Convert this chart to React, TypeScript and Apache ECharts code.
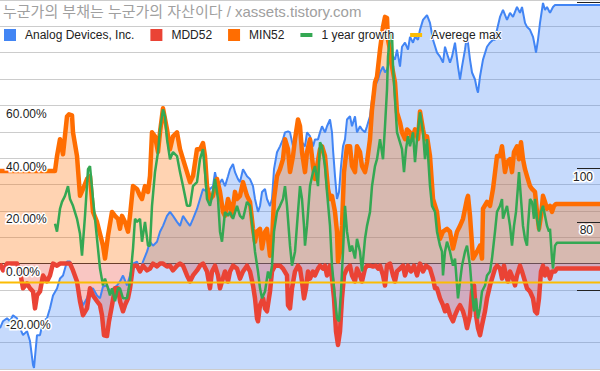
import React, { useEffect, useRef } from 'react';
import * as echarts from 'echarts';

const titleText = '누군가의 부채는 누군가의 자산이다 / xassets.tistory.com';
const seriesNames = ['Analog Devices, Inc.', 'MDD52', 'MIN52', '1 year growth', 'Averege max'];

// [trading day, price] – right axis
const adiPrice: number[][] = [[0,40.4],[3,43.0],[7,44.1],[10,43.0],[13,45.2],[17,44.1],[20,40.4],[23,37.8],[27,39.3],[30,35.6],[33,26.7],[34,25.6],[37,37.8],[40,37.8],[43,43.0],[47,44.1],[50,47.8],[53,52.6],[57,55.2],[60,58.9],[63,60.0],[67,65.2],[70,65.2],[73,62.6],[77,57.8],[80,52.6],[83,48.9],[87,51.5],[90,55.2],[93,55.2],[97,52.6],[100,51.5],[103,55.9],[107,56.3],[110,54.1],[113,55.2],[117,56.3],[120,57.8],[123,60.0],[127,56.3],[130,60.0],[133,64.4],[137,65.2],[140,61.5],[143,65.2],[147,68.9],[150,72.6],[153,71.1],[157,72.6],[160,76.3],[163,78.5],[167,82.2],[170,83.7],[173,82.2],[177,80.0],[180,78.5],[183,82.2],[187,80.0],[190,78.5],[193,81.1],[197,84.8],[200,88.5],[203,92.2],[207,91.1],[210,92.2],[213,93.3],[215,98.5],[218,93.3],[222,95.9],[225,93.3],[228,97.0],[230,99.6],[233,101.5],[235,98.5],[238,95.9],[240,94.8],[243,99.6],[247,97.0],[250,95.9],[253,93.3],[255,88.5],[258,83.7],[260,85.9],[262,91.1],[265,92.2],[267,88.5],[270,85.9],[272,88.5],[274,99.6],[277,105.9],[280,108.1],[283,110.7],[285,113.3],[288,113.7],[290,113.3],[293,108.1],[295,110.7],[298,115.6],[300,115.6],[302,109.6],[305,108.1],[307,113.3],[310,111.9],[313,108.1],[315,110.7],[318,110.7],[320,113.3],[322,115.6],[325,113.3],[327,115.6],[330,118.1],[332,113.3],[333,107.0],[335,97.0],[337,88.5],[339,91.1],[341,100.7],[343,108.1],[345,110.7],[347,118.1],[350,119.3],[352,115.6],[355,119.3],[357,113.3],[360,115.6],[362,114.4],[365,113.3],[367,115.6],[370,119.3],[372,125.6],[375,130.4],[378,133.0],[380,135.6],[383,137.8],[385,135.6],[387,136.7],[390,140.4],[393,141.5],[395,140.4],[397,144.1],[400,137.8],[402,145.2],[405,146.7],[408,144.1],[410,148.9],[413,146.7],[415,148.9],[418,147.8],[420,151.5],[423,155.2],[427,157.0],[430,154.1],[433,147.8],[437,143.0],[440,141.5],[443,139.3],[445,145.2],[448,141.5],[450,139.3],[452,141.5],[455,146.7],[458,137.8],[460,133.0],[462,137.8],[465,144.1],[467,149.6],[470,140.4],[472,135.6],[475,133.0],[477,129.3],[478,128.1],[480,134.1],[483,140.4],[487,145.2],[490,146.7],[493,147.8],[495,147.8],[497,151.5],[500,156.3],[503,158.9],[507,155.2],[510,157.8],[513,156.3],[517,160.0],[520,157.8],[522,160.0],[525,154.1],[527,152.6],[530,151.5],[533,148.9],[535,145.2],[536,143.0],[538,147.8],[540,154.1],[543,161.5],[545,158.9],[547,160.0],[550,157.8],[553,160.0],[555,160.7],[600,160.7]];

// [trading day, %] – left axis
const mdd52: number[][] = [[0,0],[3,-2.6],[7,0],[13,0],[17,0],[20,-3.0],[23,-9.4],[27,-7.5],[30,-9.4],[33,-10.6],[35,-17.0],[37,-12.1],[40,-10.6],[43,-4.5],[47,-6.8],[50,-4.5],[53,0],[57,-0.8],[60,0],[63,0],[67,0],[70,0],[73,-2.6],[77,-6.8],[80,-14.3],[83,-19.6],[87,-17.0],[90,-9.4],[93,-12.1],[97,-14.3],[100,-15.8],[102,-19.6],[104,-27.2],[107,-27.5],[109,-21.9],[112,-15.8],[115,-9.4],[118,-9.4],[120,-14.3],[123,-18.1],[125,-15.8],[128,-13.2],[130,-9.4],[133,-0.8],[137,-0.8],[140,-3.0],[143,-0.8],[147,-2.6],[150,-1.9],[153,0],[157,-1.1],[160,0],[163,0],[167,-1.1],[170,-0.8],[173,-2.6],[177,-0.8],[180,0],[183,-0.8],[187,-4.5],[190,-6.8],[193,-4.5],[197,-2.6],[200,-0.8],[203,0],[207,-3.0],[210,-9.4],[212,-3.0],[215,-0.8],[218,-4.5],[220,-9.4],[222,-6.8],[225,-3.0],[228,-6.8],[230,-3.0],[233,-0.8],[237,-1.9],[240,-5.7],[243,-3.0],[247,-0.8],[250,-3.0],[253,-8.3],[255,-13.2],[257,-20.8],[258,-21.9],[260,-15.8],[263,-13.2],[265,-17.0],[267,-18.1],[270,-10.6],[272,-3.0],[275,-0.8],[278,-0.8],[280,-0.8],[283,-1.9],[287,-4.5],[288,-15.8],[290,-17.0],[292,-9.4],[295,-3.0],[298,-0.8],[300,-1.9],[302,-6.8],[304,-13.2],[306,-9.4],[308,-3.0],[310,-5.7],[313,-3.0],[315,-4.5],[318,-1.9],[320,-0.8],[323,-1.9],[325,-0.8],[327,-4.5],[330,-0.8],[332,-5.7],[334,-13.2],[336,-25.7],[338,-30.9],[340,-25.7],[342,-13.2],[344,-4.5],[347,-1.9],[350,-0.8],[352,-4.5],[355,-6.8],[357,-1.9],[360,-4.5],[362,-6.8],[365,-1.9],[367,-0.8],[370,-0.8],[373,-1.1],[376,-0.8],[378,-1.9],[380,-0.8],[383,-4.5],[385,-8.3],[387,-0.8],[390,0],[393,-4.5],[395,-6.8],[397,-3.0],[400,-1.9],[403,-0.8],[405,-4.5],[408,-0.8],[411,-3.0],[414,-0.8],[417,-4.5],[420,0],[423,-3.0],[426,-0.8],[430,-1.9],[433,-5.7],[435,-9.4],[437,-9.4],[440,-13.2],[443,-15.8],[445,-18.1],[447,-15.8],[450,-19.6],[453,-21.9],[455,-19.6],[458,-17.0],[460,-15.8],[463,-18.1],[465,-20.8],[467,-24.5],[470,-19.6],[472,-10.6],[474,-8.3],[476,-19.6],[478,-24.5],[480,-27.2],[482,-23.4],[485,-18.1],[487,-13.2],[490,-8.3],[493,-4.5],[495,-1.9],[497,-0.8],[500,-1.9],[502,-5.7],[504,-0.8],[506,-4.5],[508,-6.8],[510,-3.0],[513,-5.7],[515,-8.3],[517,-4.5],[520,-0.8],[522,-3.0],[525,-6.8],[527,-9.4],[530,-10.6],[533,-13.2],[535,-18.1],[537,-18.9],[539,-13.2],[541,-3.0],[543,-0.8],[545,-4.5],[547,-1.9],[550,-5.7],[552,-3.0],[555,-3.0],[557,-1.9],[600,-1.9]];

const min52: number[][] = [[0,35.1],[55,35.1],[57,40.8],[60,47.2],[63,41.5],[67,55.8],[69,56.6],[72,56.2],[73,49.8],[77,40.8],[80,25.7],[83,28.3],[87,32.1],[90,33.2],[93,19.6],[97,15.8],[100,11.3],[103,6.8],[105,1.9],[108,10.6],[112,19.6],[115,18.1],[118,17.0],[120,13.2],[122,18.1],[125,15.8],[128,12.1],[130,18.1],[133,29.4],[137,28.3],[140,25.7],[142,24.5],[145,29.4],[148,27.2],[150,33.2],[152,49.8],[155,48.3],[158,42.3],[160,49.8],[163,58.9],[167,50.9],[170,43.4],[173,48.3],[177,49.8],[180,43.4],[183,39.6],[187,34.7],[190,30.9],[193,33.2],[197,43.4],[200,43.4],[203,45.7],[205,40.8],[207,29.4],[210,24.5],[213,25.7],[215,29.4],[217,32.1],[220,27.2],[223,19.6],[225,18.1],[228,24.5],[230,21.9],[232,18.1],[235,27.2],[237,24.5],[240,25.7],[243,30.9],[247,25.7],[250,23.4],[253,13.2],[255,8.3],[257,12.1],[260,13.2],[262,5.7],[265,12.1],[267,13.2],[270,3.0],[272,8.3],[274,24.5],[277,33.2],[280,35.8],[283,39.6],[285,47.2],[288,43.4],[290,34.7],[293,40.8],[295,47.2],[298,54.7],[300,52.1],[302,42.3],[305,34.7],[307,42.3],[310,47.2],[313,37.0],[315,32.1],[317,37.0],[320,43.4],[322,44.5],[325,40.8],[328,28.3],[330,24.5],[332,25.7],[335,19.6],[337,12.1],[338,0.8],[340,4.5],[342,14.3],[344,34.7],[347,44.5],[350,44.5],[352,37.0],[355,34.7],[357,44.5],[360,42.3],[362,37.0],[365,34.7],[367,38.5],[370,47.2],[372,58.5],[375,68.7],[377,70.9],[380,81.1],[383,89.8],[385,93.6],[387,93.2],[388,84.9],[390,81.1],[392,74.7],[395,68.7],[397,57.4],[400,53.6],[402,49.8],[405,47.2],[407,50.9],[410,49.8],[412,47.2],[415,50.9],[418,47.2],[420,57.7],[423,50.9],[425,47.2],[427,48.3],[430,40.8],[433,24.5],[437,19.6],[440,9.4],[443,12.1],[447,13.2],[450,12.1],[453,5.7],[457,12.1],[460,14.3],[463,17.0],[467,24.5],[468,25.7],[470,18.1],[473,1.9],[477,4.5],[480,6.8],[482,1.9],[483,20.8],[487,23.4],[490,21.9],[493,28.3],[497,40.8],[500,40.8],[502,44.5],[505,34.7],[507,38.5],[510,39.6],[512,34.7],[514,42.3],[517,44.5],[519,39.6],[521,46.0],[523,39.6],[525,35.8],[527,33.2],[530,29.4],[532,28.3],[535,27.2],[537,19.6],[539,13.2],[541,18.1],[543,25.7],[545,23.4],[547,20.8],[550,21.9],[552,19.6],[554,21.9],[556,22.6],[600,22.6]];

const growth1y: number[][] = [[55,15.1],[57,12.1],[60,20.8],[62,23.4],[65,25.7],[68,29.4],[70,24.5],[73,21.9],[77,17.0],[80,11.3],[82,3.0],[85,18.1],[88,35.8],[90,37.0],[93,24.5],[96,13.2],[100,-1.9],[103,-8.3],[105,-5.7],[108,-9.4],[110,-12.1],[112,-9.4],[115,-14.3],[118,-9.4],[120,-9.4],[123,-13.2],[127,-13.2],[130,-6.8],[133,5.7],[135,17.0],[137,15.8],[140,17.0],[142,8.3],[145,15.8],[148,6.8],[150,6.8],[152,21.9],[155,34.7],[158,42.3],[160,50.9],[163,58.5],[165,55.8],[167,47.2],[170,39.6],[173,42.3],[177,40.8],[180,34.7],[183,29.4],[187,21.9],[190,21.9],[193,29.4],[197,30.9],[200,39.6],[203,43.4],[205,34.7],[207,24.5],[210,21.9],[213,27.2],[215,32.1],[218,24.5],[220,12.1],[222,8.3],[225,19.6],[228,18.1],[230,19.6],[233,17.0],[237,21.9],[240,18.1],[243,17.0],[247,23.4],[250,21.9],[253,12.1],[255,4.5],[258,-3.0],[260,-9.4],[262,-13.2],[265,-10.6],[268,-3.0],[270,-5.7],[272,-0.8],[274,12.1],[277,19.6],[280,21.9],[283,24.5],[285,29.4],[287,21.9],[290,6.8],[292,-0.8],[295,4.5],[298,19.6],[300,29.4],[302,24.5],[304,14.3],[305,6.8],[307,14.3],[310,29.4],[313,34.7],[315,37.0],[318,29.4],[320,46.0],[322,44.5],[325,37.0],[327,27.2],[330,14.3],[332,-0.8],[335,-13.2],[337,-20.8],[339,-21.9],[341,-10.6],[343,4.5],[345,21.9],[347,12.1],[350,4.5],[352,6.8],[355,1.9],[357,9.4],[360,4.5],[362,-3.0],[365,9.4],[367,14.3],[370,19.6],[372,29.4],[375,37.0],[377,39.6],[380,47.2],[383,39.6],[385,52.1],[387,66.0],[388,78.5],[390,86.8],[392,87.5],[393,74.7],[395,62.3],[397,49.8],[400,46.0],[402,43.4],[404,34.7],[406,43.4],[408,48.3],[410,44.5],[413,49.8],[415,38.5],[417,47.2],[420,57.4],[423,49.8],[425,39.6],[427,47.2],[430,29.4],[432,21.9],[435,19.6],[437,12.1],[440,6.8],[442,4.5],[443,-4.5],[445,4.5],[447,8.3],[450,4.5],[453,-0.8],[455,1.9],[458,-13.2],[460,-6.8],[462,-0.8],[465,4.5],[467,6.8],[470,-0.8],[472,-10.6],[474,-18.1],[476,-13.2],[478,-20.8],[480,-17.0],[482,-10.6],[485,-8.3],[487,-4.5],[490,-3.0],[492,1.9],[495,12.1],[497,19.6],[500,21.9],[502,24.5],[503,17.0],[505,19.6],[507,21.9],[510,14.3],[512,6.8],[514,14.3],[516,19.6],[518,29.4],[519,34.7],[521,24.5],[523,14.3],[525,9.4],[527,6.8],[528,14.3],[530,24.5],[532,23.4],[534,17.0],[535,24.5],[537,17.0],[539,12.1],[541,19.6],[543,21.9],[545,18.1],[547,14.3],[549,12.1],[550,13.2],[552,1.9],[553,-1.9],[555,6.8],[557,7.9],[600,7.9]];

const averegeMax = -7.2;
const dayRange = [0, 600];

const pctAxisRange = [-40, 100];
const priceAxisRange = [25.2, 162.6];
const priceTickValues = [54.4, 80, 100, 161.9];
const priceLabelValues = [80, 100];

const FONT = '"Liberation Sans", Arial, "Noto Sans CJK KR", sans-serif';

export default function App() {
  const ref = useRef<HTMLDivElement>(null);
  useEffect(() => {
    document.body.style.margin = '0';
    const chart = echarts.init(ref.current as HTMLDivElement, null, { renderer: 'svg' });
    const lineIcon = 'path://M0,0L12,0L12,4L0,4Z';
    const option: any = {
      animation: false,
      title: {
        text: titleText,
        left: 3,
        top: 4,
        padding: 0,
        textStyle: { fontSize: 15, fontWeight: 'normal', color: '#a0a0a0', fontFamily: FONT },
      },
      legend: {
        left: 4,
        top: 28,
        padding: 0,
        itemGap: 15,
        itemWidth: 12,
        itemHeight: 12,
        textStyle: {
          fontSize: 12, color: '#222', fontFamily: FONT, padding: [0, 0, 0, 4],
          textBorderColor: '#fff', textBorderWidth: 2,
        },
        data: [
          { name: seriesNames[0], icon: 'rect' },
          { name: seriesNames[1], icon: 'rect' },
          { name: seriesNames[2], icon: 'rect' },
          { name: seriesNames[3], icon: lineIcon },
          { name: seriesNames[4], icon: lineIcon },
        ],
      },
      grid: { left: 0, right: 0, top: 0, bottom: 0, containLabel: false },
      xAxis: {
        type: 'value', min: dayRange[0], max: dayRange[1],
        axisLine: { show: true, onZero: true, onZeroAxisIndex: 0, lineStyle: { color: '#333', width: 1 } },
        axisTick: { show: false }, axisLabel: { show: false }, splitLine: { show: false },
      },
      yAxis: [
        {
          type: 'value', position: 'left', min: pctAxisRange[0], max: pctAxisRange[1], interval: 20, z: 5,
          axisLine: { show: false }, axisTick: { show: false }, splitLine: { show: false },
          axisLabel: {
            inside: true, margin: 6, verticalAlign: 'top', padding: [2, 0, 0, 0], lineHeight: 13,
            fontSize: 12, color: '#222', fontFamily: FONT, textBorderColor: '#fff', textBorderWidth: 3,
            formatter: (v: number) => (v >= -20 && v <= 60 ? v.toFixed(2) + '%' : ''),
          },
        },
        {
          type: 'value', position: 'right', min: priceAxisRange[0], max: priceAxisRange[1], z: 5,
          axisLine: { show: false }, splitLine: { show: false },
          axisTick: { show: true, inside: true, length: 23, customValues: priceTickValues, lineStyle: { color: '#222', width: 1 } },
          axisLabel: {
            inside: true, margin: 7, customValues: priceLabelValues, verticalAlign: 'top', padding: [2, 0, 0, 0], lineHeight: 13,
            fontSize: 12, color: '#222', fontFamily: FONT, textBorderColor: '#fff', textBorderWidth: 3,
          },
        },
        {
          type: 'value', position: 'left', min: pctAxisRange[0], max: pctAxisRange[1], interval: 10, z: 0,
          axisLine: { show: false }, axisTick: { show: false }, axisLabel: { show: false },
          splitLine: { show: true, lineStyle: { color: '#cccccc', width: 1 } },
        },
      ],
      series: [
        {
          name: seriesNames[0], type: 'line', yAxisIndex: 1, data: adiPrice, symbol: 'none', showSymbol: false,
          lineStyle: { color: '#4285F4', width: 2 }, itemStyle: { color: '#4285F4' },
          areaStyle: { color: '#4285F4', opacity: 0.3, origin: 'start' },
        },
        {
          name: seriesNames[1], type: 'line', yAxisIndex: 0, data: mdd52, symbol: 'none', showSymbol: false,
          lineStyle: { color: '#EA4335', width: 4.5, join: 'round' }, itemStyle: { color: '#EA4335' },
          areaStyle: { color: '#EA4335', opacity: 0.3 },
        },
        {
          name: seriesNames[2], type: 'line', yAxisIndex: 0, data: min52, symbol: 'none', showSymbol: false,
          lineStyle: { color: '#FF6D01', width: 4.5, join: 'round' }, itemStyle: { color: '#FF6D01' },
          areaStyle: { color: '#FF6D01', opacity: 0.3 },
        },
        {
          name: seriesNames[3], type: 'line', yAxisIndex: 0, data: growth1y, symbol: 'none', showSymbol: false,
          lineStyle: { color: '#34A853', width: 2.5 }, itemStyle: { color: '#34A853' },
        },
        {
          name: seriesNames[4], type: 'line', yAxisIndex: 0,
          data: [[dayRange[0], averegeMax], [dayRange[1], averegeMax]], symbol: 'none', showSymbol: false,
          lineStyle: { color: '#FBBC04', width: 2 }, itemStyle: { color: '#FBBC04' },
        },
      ],
    };
    chart.setOption(option);
    return () => chart.dispose();
  }, []);
  return <div ref={ref} style={{ width: 600, height: 371 }} />;
}
